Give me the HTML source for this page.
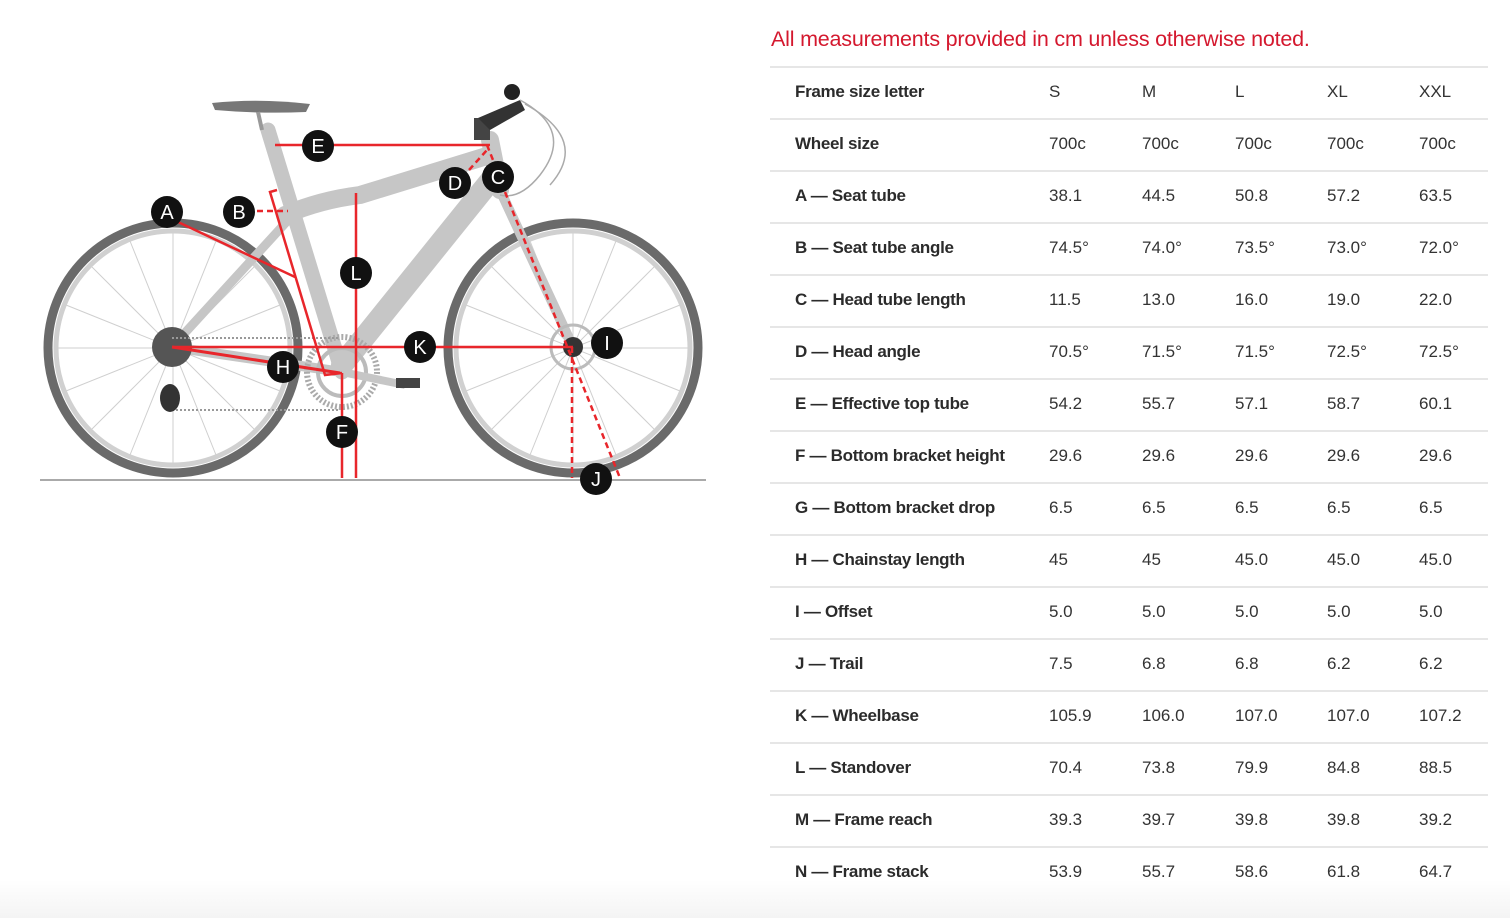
<!DOCTYPE html>
<html><head><meta charset="utf-8"><style>
html,body{margin:0;padding:0;background:#fff;}
body{width:1510px;height:918px;position:relative;overflow:hidden;font-family:"Liberation Sans",sans-serif;background:linear-gradient(#fff 0,#fff 880px,#f4f4f4 918px);}
.hdr{position:absolute;left:771px;top:27px;font-size:21.5px;color:#d4182e;letter-spacing:-0.2px;}
.ln{position:absolute;left:770px;width:718px;height:2px;background:#e6e6e6;}
.row{position:absolute;left:795px;height:24px;font-size:17px;color:#333;line-height:24px;}
.row b{font-weight:bold;color:#2b2b2b;position:absolute;left:0;white-space:nowrap;letter-spacing:-0.3px;}
.row span{position:absolute;white-space:nowrap;}
</style></head><body>
<div class="hdr">All measurements provided in cm unless otherwise noted.</div>

<svg width="760" height="918" style="position:absolute;left:0;top:0" xmlns="http://www.w3.org/2000/svg">
<line x1="40" y1="480" x2="706" y2="480" stroke="#aaa" stroke-width="2"/>
<g fill="none">
<circle cx="173" cy="348" r="125" stroke="#6a6a6a" stroke-width="9"/>
<circle cx="173" cy="348" r="117" stroke="#d0d0d0" stroke-width="5"/>
<circle cx="573" cy="348" r="125" stroke="#6a6a6a" stroke-width="9"/>
<circle cx="573" cy="348" r="117" stroke="#d0d0d0" stroke-width="5"/>
</g>
<g stroke="#cfcfcf" stroke-width="1">
<line x1="173" y1="233" x2="173" y2="463"/><line x1="58" y1="348" x2="288" y2="348"/>
<line x1="92" y1="267" x2="254" y2="429"/><line x1="254" y1="267" x2="92" y2="429"/>
<line x1="130" y1="241" x2="216" y2="455"/><line x1="216" y1="241" x2="130" y2="455"/>
<line x1="66" y1="305" x2="280" y2="391"/><line x1="66" y1="391" x2="280" y2="305"/>
<line x1="573" y1="233" x2="573" y2="463"/><line x1="458" y1="348" x2="688" y2="348"/>
<line x1="492" y1="267" x2="654" y2="429"/><line x1="654" y1="267" x2="492" y2="429"/>
<line x1="530" y1="241" x2="616" y2="455"/><line x1="616" y1="241" x2="530" y2="455"/>
<line x1="466" y1="305" x2="680" y2="391"/><line x1="466" y1="391" x2="680" y2="305"/>
</g>
<g stroke="#c6c6c6" stroke-linecap="round" fill="none">
<line x1="172" y1="347" x2="290" y2="218" stroke-width="9"/>
<line x1="172" y1="347" x2="342" y2="372" stroke-width="10"/>
<line x1="342" y1="372" x2="268" y2="130" stroke-width="15"/>
<path d="M285 215 Q320 200 360 195 L490 155" stroke-width="18"/>
<line x1="495" y1="175" x2="342" y2="365" stroke-width="22"/>
<line x1="490" y1="140" x2="500" y2="190" stroke-width="18"/>
<line x1="500" y1="190" x2="573" y2="347" stroke-width="10"/>
</g>
<circle cx="342" cy="372" r="35" fill="none" stroke="#aaa" stroke-width="6" stroke-dasharray="2 2"/>
<circle cx="342" cy="372" r="24" fill="none" stroke="#bbb" stroke-width="4"/>
<circle cx="172" cy="347" r="20" fill="#555"/>
<circle cx="573" cy="347" r="10" fill="#333"/>
<circle cx="573" cy="347" r="22" fill="none" stroke="#bbb" stroke-width="3"/>
<line x1="172" y1="338" x2="340" y2="338" stroke="#999" stroke-width="2" stroke-dasharray="2 2"/>
<line x1="172" y1="410" x2="340" y2="410" stroke="#999" stroke-width="2" stroke-dasharray="2 2"/>
<ellipse cx="170" cy="398" rx="10" ry="14" fill="#333"/>
<line x1="342" y1="372" x2="405" y2="385" stroke="#c6c6c6" stroke-width="8"/>
<rect x="396" y="378" width="24" height="10" fill="#444"/>
<path d="M212 103 Q260 98 310 104 L306 112 Q260 114 215 110 Z" fill="#777"/>
<line x1="258" y1="112" x2="262" y2="130" stroke="#999" stroke-width="4"/>
<rect x="474" y="118" width="16" height="22" fill="#444"/>
<path d="M478 118 L520 100 L525 110 L490 130 Z" fill="#333"/>
<circle cx="512" cy="92" r="8" fill="#222"/>
<path d="M520 100 Q575 130 540 175 Q520 200 500 195" fill="none" stroke="#aaa" stroke-width="1.5"/>
<path d="M525 104 Q590 140 550 185" fill="none" stroke="#aaa" stroke-width="1.5"/>
<g stroke="#e8262b" stroke-width="2.5" fill="none">
<line x1="275" y1="145" x2="490" y2="145"/>
<line x1="178" y1="222" x2="295" y2="277"/>
<path d="M277 190 L270 192 L325 375 L342 373"/>
<line x1="356" y1="193" x2="356" y2="478"/>
<line x1="342" y1="373" x2="342" y2="478"/>
<line x1="172" y1="347" x2="573" y2="347"/>
<line x1="172" y1="347" x2="340" y2="373" stroke-width="3"/>
</g>
<g stroke="#e8262b" stroke-width="2.5" fill="none" stroke-dasharray="6 4">
<line x1="257" y1="211" x2="288" y2="211"/>
<line x1="469" y1="170" x2="487" y2="150"/>
<line x1="487" y1="145" x2="493" y2="160"/>
<line x1="505" y1="192" x2="620" y2="478"/>
<line x1="572" y1="347" x2="572" y2="478"/>
</g>
<g font-family="Liberation Sans,sans-serif" font-size="20" fill="#fff" text-anchor="middle">
<g fill="#111"><circle cx="167" cy="212" r="16"/><circle cx="239" cy="212" r="16"/><circle cx="318" cy="146" r="16"/><circle cx="455" cy="183" r="16"/><circle cx="498" cy="177" r="16"/><circle cx="356" cy="273" r="16"/><circle cx="420" cy="347" r="16"/><circle cx="607" cy="343" r="16"/><circle cx="283" cy="367" r="16"/><circle cx="342" cy="432" r="16"/><circle cx="596" cy="479" r="16"/></g>
<text x="167" y="219">A</text><text x="239" y="219">B</text><text x="318" y="153">E</text><text x="455" y="190">D</text><text x="498" y="184">C</text><text x="356" y="280">L</text><text x="420" y="354">K</text><text x="607" y="350">I</text><text x="283" y="374">H</text><text x="342" y="439">F</text><text x="596" y="486">J</text>
</g>
</svg>

<div class="ln" style="top:66px"></div><div class="ln" style="top:118px"></div><div class="ln" style="top:170px"></div><div class="ln" style="top:222px"></div><div class="ln" style="top:274px"></div><div class="ln" style="top:326px"></div><div class="ln" style="top:378px"></div><div class="ln" style="top:430px"></div><div class="ln" style="top:482px"></div><div class="ln" style="top:534px"></div><div class="ln" style="top:586px"></div><div class="ln" style="top:638px"></div><div class="ln" style="top:690px"></div><div class="ln" style="top:742px"></div><div class="ln" style="top:794px"></div><div class="ln" style="top:846px"></div>

<div class="row" style="top:80px"><b>Frame size letter</b><span style="left:254px">S</span><span style="left:347px">M</span><span style="left:440px">L</span><span style="left:532px">XL</span><span style="left:624px">XXL</span></div>
<div class="row" style="top:132px"><b>Wheel size</b><span style="left:254px">700c</span><span style="left:347px">700c</span><span style="left:440px">700c</span><span style="left:532px">700c</span><span style="left:624px">700c</span></div>
<div class="row" style="top:184px"><b>A — Seat tube</b><span style="left:254px">38.1</span><span style="left:347px">44.5</span><span style="left:440px">50.8</span><span style="left:532px">57.2</span><span style="left:624px">63.5</span></div>
<div class="row" style="top:236px"><b>B — Seat tube angle</b><span style="left:254px">74.5°</span><span style="left:347px">74.0°</span><span style="left:440px">73.5°</span><span style="left:532px">73.0°</span><span style="left:624px">72.0°</span></div>
<div class="row" style="top:288px"><b>C — Head tube length</b><span style="left:254px">11.5</span><span style="left:347px">13.0</span><span style="left:440px">16.0</span><span style="left:532px">19.0</span><span style="left:624px">22.0</span></div>
<div class="row" style="top:340px"><b>D — Head angle</b><span style="left:254px">70.5°</span><span style="left:347px">71.5°</span><span style="left:440px">71.5°</span><span style="left:532px">72.5°</span><span style="left:624px">72.5°</span></div>
<div class="row" style="top:392px"><b>E — Effective top tube</b><span style="left:254px">54.2</span><span style="left:347px">55.7</span><span style="left:440px">57.1</span><span style="left:532px">58.7</span><span style="left:624px">60.1</span></div>
<div class="row" style="top:444px"><b>F — Bottom bracket height</b><span style="left:254px">29.6</span><span style="left:347px">29.6</span><span style="left:440px">29.6</span><span style="left:532px">29.6</span><span style="left:624px">29.6</span></div>
<div class="row" style="top:496px"><b>G — Bottom bracket drop</b><span style="left:254px">6.5</span><span style="left:347px">6.5</span><span style="left:440px">6.5</span><span style="left:532px">6.5</span><span style="left:624px">6.5</span></div>
<div class="row" style="top:548px"><b>H — Chainstay length</b><span style="left:254px">45</span><span style="left:347px">45</span><span style="left:440px">45.0</span><span style="left:532px">45.0</span><span style="left:624px">45.0</span></div>
<div class="row" style="top:600px"><b>I — Offset</b><span style="left:254px">5.0</span><span style="left:347px">5.0</span><span style="left:440px">5.0</span><span style="left:532px">5.0</span><span style="left:624px">5.0</span></div>
<div class="row" style="top:652px"><b>J — Trail</b><span style="left:254px">7.5</span><span style="left:347px">6.8</span><span style="left:440px">6.8</span><span style="left:532px">6.2</span><span style="left:624px">6.2</span></div>
<div class="row" style="top:704px"><b>K — Wheelbase</b><span style="left:254px">105.9</span><span style="left:347px">106.0</span><span style="left:440px">107.0</span><span style="left:532px">107.0</span><span style="left:624px">107.2</span></div>
<div class="row" style="top:756px"><b>L — Standover</b><span style="left:254px">70.4</span><span style="left:347px">73.8</span><span style="left:440px">79.9</span><span style="left:532px">84.8</span><span style="left:624px">88.5</span></div>
<div class="row" style="top:808px"><b>M — Frame reach</b><span style="left:254px">39.3</span><span style="left:347px">39.7</span><span style="left:440px">39.8</span><span style="left:532px">39.8</span><span style="left:624px">39.2</span></div>
<div class="row" style="top:860px"><b>N — Frame stack</b><span style="left:254px">53.9</span><span style="left:347px">55.7</span><span style="left:440px">58.6</span><span style="left:532px">61.8</span><span style="left:624px">64.7</span></div>
</body></html>
